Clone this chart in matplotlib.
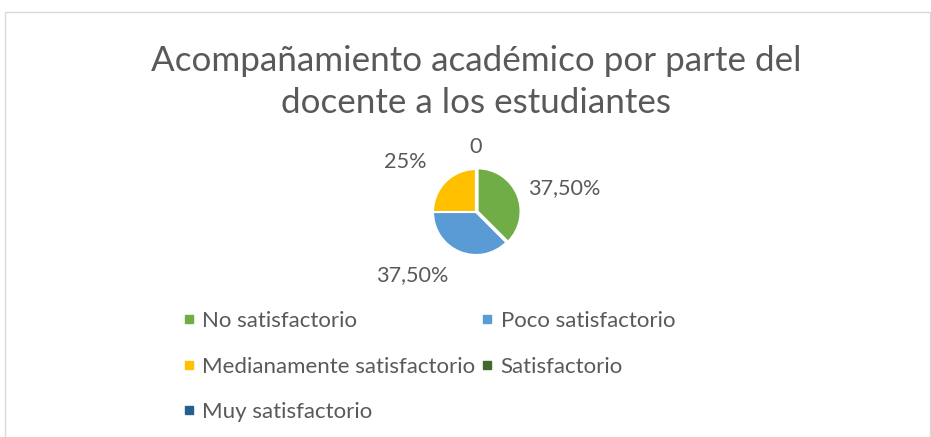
import matplotlib
matplotlib.use("Agg")
import matplotlib.pyplot as plt
from matplotlib.lines import Line2D
from matplotlib.patches import Rectangle

plt.rcParams['font.family'] = ['Lato', 'DejaVu Sans']

title = "Acompañamiento académico por parte del\ndocente a los estudiantes"
categories = ["No satisfactorio", "Poco satisfactorio", "Medianamente satisfactorio",
              "Satisfactorio", "Muy satisfactorio"]
values = [37.5, 37.5, 25.0, 0.0, 0.0]
label_texts = ["37,50%", "37,50%", "25%", "0", ""]
colors = ["#70AD47", "#5B9BD5", "#FFC000", "#43682B", "#255E91"]
txt = "#595959"

W, H = 931, 437
fig = plt.figure(figsize=(W / 100, H / 100), dpi=100)
fig.patch.set_facecolor("white")

def fx(px):
    return px / W

def fy(py):
    return 1 - py / H

# chart border
fig.add_artist(Rectangle((fx(5), fy(440)), fx(925), (440 - 12) / H, transform=fig.transFigure,
                         fill=False, edgecolor="#D9D9D9", linewidth=1))

fig.text(fx(476), fy(82), title, ha="center", va="center", fontsize=25.2, color=txt,
         linespacing=1.4)

# pie axes: center (476,212), radius 43 px
cx, cy, R = 476, 212, 43
half = 120
ax = fig.add_axes([fx(cx - half), fy(cy + half), 2 * half / W, 2 * half / H])
wedges, _ = ax.pie(values, colors=colors, startangle=90, counterclock=False,
                   explode=[0.04, 0, 0, 0, 0],
                   wedgeprops=dict(edgecolor="white", linewidth=1.5))
lim = half / R
ax.set_xlim(-lim, lim)
ax.set_ylim(-lim, lim)
ax.set_aspect("equal")
ax.axis("off")

label_pos = [(564, 188), (412, 275), (405, 162), (476, 147), (476, 147)]
for (px, py), t in zip(label_pos, label_texts):
    if t:
        ax.text((px - cx) / R, (cy - py) / R, t, ha="center", va="center",
                fontsize=15.6, color=txt)

order = [0, 2, 4, 1, 3]
handles = [Line2D([], [], marker="s", linestyle="none", markersize=6,
                  markerfacecolor=colors[i], markeredgecolor=colors[i]) for i in order]
labels = [categories[i] for i in order]
leg = fig.legend(handles, labels, loc="upper left", bbox_to_anchor=(fx(182), fy(311)),
                 ncol=2, frameon=False, fontsize=16, labelcolor=txt,
                 handlelength=0.6, handletextpad=0.3, labelspacing=1.15,
                 columnspacing=0.25, borderaxespad=0, borderpad=0)

fig.savefig("out.png", dpi=100)
